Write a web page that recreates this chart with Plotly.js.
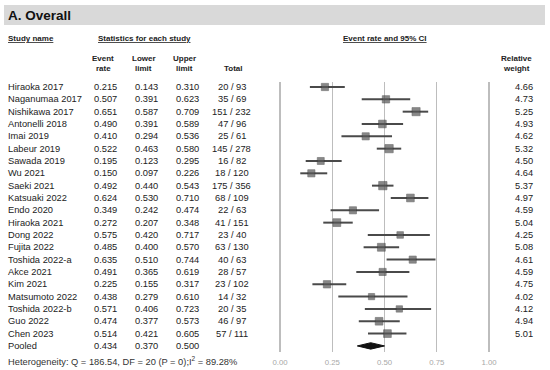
<!DOCTYPE html>
<html>
<head>
<meta charset="utf-8">
<script src="https://cdn.plot.ly/plotly-3.0.1.min.js"></script>
<style>html,body{margin:0;padding:0;background:#fff;}#chart{width:550px;height:370px;}</style>
</head>
<body>
<div id="chart"></div>
<script>
const studies = ["Hiraoka 2017","Naganumaa 2017","Nishikawa 2017","Antonelli 2018","Imai 2019","Labeur 2019","Sawada 2019","Wu 2021","Saeki 2021","Katsuaki 2022","Endo 2020","Hiraoka 2021","Dong 2022","Fujita 2022","Toshida 2022-a","Akce 2021","Kim 2021","Matsumoto 2022","Toshida 2022-b","Guo 2022","Chen 2023"];
const rates  = [0.215,0.507,0.651,0.490,0.410,0.522,0.195,0.150,0.492,0.624,0.349,0.272,0.575,0.485,0.635,0.491,0.225,0.438,0.571,0.474,0.514];
const lowers = [0.143,0.391,0.587,0.391,0.294,0.463,0.123,0.097,0.440,0.530,0.242,0.207,0.420,0.400,0.510,0.365,0.155,0.279,0.406,0.377,0.421];
const uppers = [0.310,0.623,0.709,0.589,0.536,0.580,0.295,0.226,0.543,0.710,0.474,0.348,0.717,0.570,0.744,0.619,0.317,0.610,0.723,0.573,0.605];
const totals = ["20 / 93","35 / 69","151 / 232","47 / 96","25 / 61","145 / 278","16 / 82","18 / 120","175 / 356","68 / 109","22 / 63","41 / 151","23 / 40","63 / 130","40 / 63","28 / 57","23 / 102","14 / 32","20 / 35","46 / 97","57 / 111"];
const weights = [4.66,4.73,5.25,4.93,4.62,5.32,4.50,4.64,5.37,4.97,4.59,5.04,4.25,5.08,4.61,4.59,4.75,4.02,4.12,4.94,5.01];
const pooledLabel = "Pooled";
const pooled = {rate:0.434, lower:0.370, upper:0.500};
const tickVals = [0, 0.25, 0.5, 0.75, 1.0];
const tickText = ["0.00","0.25","0.50","0.75","1.00"];
const heterogeneity = "Heterogeneity: Q = 186.54, DF = 20 (P = 0);I<sup>2</sup> = 89.28%";

(function(){
const W = 550, H = 370;
const FONT = "Arial, 'Liberation Sans', sans-serif";
const px = x => x / W;
const py = y => 1 - y / H;
const txt = '#222';

const rows = studies.map((_, i) => i);
const pooledRow = studies.length;

const traces = [];
traces.push({
  type:'scatter', mode:'markers', x: rates, y: rows,
  marker:{symbol:'square', size: weights.map(w => w*1.55), color:'#575757', line:{width:0.6, color:'#333'}},
  error_x:{type:'data', symmetric:false,
    array: uppers.map((u,i)=> u - rates[i]),
    arrayminus: lowers.map((l,i)=> rates[i] - l),
    thickness:2, width:0, color:'#4a4a4a'},
  hoverinfo:'skip', showlegend:false
});
const dh = 0.26;
traces.push({
  type:'scatter', mode:'lines', fill:'toself', fillcolor:'#111',
  x:[pooled.lower, pooled.rate, pooled.upper, pooled.rate, pooled.lower],
  y:[pooledRow, pooledRow - dh, pooledRow, pooledRow + dh, pooledRow],
  line:{color:'#111', width:1}, hoverinfo:'skip', showlegend:false
});

const ann = [];
const add = (x, y, text, opts={}) => ann.push(Object.assign({
  xref:'paper', yref:'y', x: x, y: y, text: text, showarrow:false,
  xanchor:'center', yanchor:'middle', borderpad:0,
  font:{family:FONT, size:9.3, color:txt}
}, opts));

const allNames = studies.concat([pooledLabel]);
const allRates = rates.concat([pooled.rate]);
const allLow = lowers.concat([pooled.lower]);
const allUp = uppers.concat([pooled.upper]);
allNames.forEach((n, i) => {
  add(px(7), i, n, {xanchor:'left'});
  add(px(105), i, allRates[i].toFixed(3));
  add(px(146.5), i, allLow[i].toFixed(3));
  add(px(187), i, allUp[i].toFixed(3));
});
totals.forEach((t, i) => add(px(231.5), i, t));
weights.forEach((w, i) => add(px(524), i, w.toFixed(2)));

const hdrFont = {family:FONT, size:8, color:txt};
const addP = (x, y, text, opts={}) => ann.push(Object.assign({
  xref:'paper', yref:'paper', x: px(x), y: py(y), text: text, showarrow:false,
  xanchor:'center', yanchor:'middle', borderpad:0, font: hdrFont
}, opts));

addP(7, 15, "<b>A. Overall</b>", {xanchor:'left', font:{family:FONT, size:13.5, color:'#111'}});
addP(7, 38.5, "<b><u>Study name</u></b>", {xanchor:'left'});
addP(144.5, 38.5, "<b><u>Statistics for each study</u></b>");
addP(384.5, 38.5, "<b><u>Event rate and 95% CI</u></b>");
addP(103, 58.3, "<b>Event</b>"); addP(103, 68.3, "<b>rate</b>");
addP(143.5, 58.3, "<b>Lower</b>"); addP(143.5, 68.3, "<b>limit</b>");
addP(184, 58.3, "<b>Upper</b>"); addP(184, 68.3, "<b>limit</b>");
addP(233, 68.3, "<b>Total</b>");
addP(516, 58.3, "<b>Relative</b>"); addP(516, 68.3, "<b>weight</b>");
addP(7, 361, heterogeneity, {xanchor:'left', font:{family:FONT, size:9.3, color:'#333'}});

const rowPx = 12.33, row0 = 87, plotTop = 82, plotBottom = 352;
const yTop = (plotTop - row0)/rowPx, yBot = (plotBottom - row0)/rowPx;

const layout = {
  width: W, height: H,
  margin:{l:0, r:0, t:0, b:0, pad:0},
  paper_bgcolor:'#fff', plot_bgcolor:'rgba(0,0,0,0)',
  showlegend:false,
  xaxis:{range:[-280/209, (W-280)/209], tickvals: tickVals, ticktext: tickText,
    showgrid:true, gridcolor:'#bdbdbd', gridwidth:1.4, zeroline:false, showline:false,
    ticks:'', ticklabelstandoff: 4,
    tickfont:{family:FONT, size:7.8, color:'#a8a8a8'}, fixedrange:true},
  yaxis:{range:[yBot, yTop], domain:[py(plotBottom), py(plotTop)], showgrid:false, zeroline:false,
    showticklabels:false, showline:false, ticks:'', fixedrange:true},
  shapes:[{type:'rect', xref:'paper', yref:'paper', x0:px(4), x1:px(545), y0:py(25), y1:py(5),
    fillcolor:'#d9d9d9', line:{width:0}, layer:'below'}],
  annotations: ann
};

Plotly.newPlot('chart', traces, layout, {staticPlot:true, displayModeBar:false});
})();
</script>
</body>
</html>
